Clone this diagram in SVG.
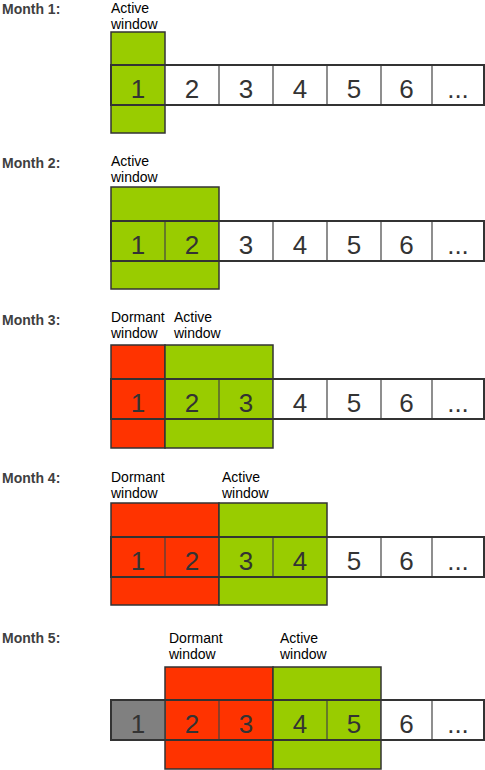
<svg xmlns="http://www.w3.org/2000/svg" width="485" height="770" viewBox="0 0 485 770">
<style>
.bg{fill:#ffffff}
.month{font-family:"Liberation Sans",Arial,sans-serif;font-weight:bold;font-size:14px;fill:#404040}
.lbl{font-family:"Liberation Sans",Arial,sans-serif;font-size:14px;fill:#000}
.num{font-family:"Liberation Sans",Arial,sans-serif;font-size:26px;fill:#333;text-anchor:middle}
.act{fill:#99cc00;stroke:#333;stroke-width:1.5}
.dor{fill:#ff3300;stroke:#333;stroke-width:1.5}
.old{fill:#808080;stroke:#333;stroke-width:1}
.cell{fill:#ffffff;stroke:#555;stroke-width:1}
.div{stroke:#444;stroke-width:1.2}
.frame{fill:none;stroke:#333;stroke-width:2}
</style>
<defs>
<g id="rowcells">
<line class="div" x1="165" y1="0" x2="165" y2="40"/>
<line class="div" x1="219" y1="0" x2="219" y2="40"/>
<line class="div" x1="273" y1="0" x2="273" y2="40"/>
<line class="div" x1="327" y1="0" x2="327" y2="40"/>
<line class="div" x1="381" y1="0" x2="381" y2="40"/>
<line class="div" x1="432" y1="0" x2="432" y2="40"/>
<rect class="frame" x="111" y="0" width="373" height="40"/>
<text class="num" x="138" y="33">1</text>
<text class="num" x="192" y="33">2</text>
<text class="num" x="246" y="33">3</text>
<text class="num" x="300" y="33">4</text>
<text class="num" x="354" y="33">5</text>
<text class="num" x="406.5" y="33">6</text>
<text class="num" x="458" y="33">...</text>
</g>
</defs>
<rect class="bg" x="0" y="0" width="485" height="770"/>

<g id="month1">
<text class="month" x="2" y="14">Month 1:</text>
<text class="lbl" x="111" y="13">Active</text>
<text class="lbl" x="111" y="29">window</text>
<rect class="act" x="111" y="32" width="54" height="101"/>
<rect class="cell" x="165" y="65" width="319" height="40"/>
<use href="#rowcells" y="65"/>
</g>

<g id="month2">
<text class="month" x="2" y="168">Month 2:</text>
<text class="lbl" x="111" y="166">Active</text>
<text class="lbl" x="111" y="182">window</text>
<rect class="act" x="111" y="187" width="108" height="102"/>
<rect class="cell" x="219" y="221" width="265" height="40"/>
<use href="#rowcells" y="221"/>
</g>

<g id="month3">
<text class="month" x="2" y="325">Month 3:</text>
<text class="lbl" x="111" y="322">Dormant</text>
<text class="lbl" x="111" y="338">window</text>
<text class="lbl" x="174" y="322">Active</text>
<text class="lbl" x="174" y="338">window</text>
<rect class="dor" x="111" y="345" width="54" height="103"/>
<rect class="act" x="165" y="345" width="108" height="103"/>
<rect class="cell" x="273" y="379" width="211" height="40"/>
<use href="#rowcells" y="379"/>
</g>

<g id="month4">
<text class="month" x="2" y="483">Month 4:</text>
<text class="lbl" x="111" y="482">Dormant</text>
<text class="lbl" x="111" y="498">window</text>
<text class="lbl" x="222" y="482">Active</text>
<text class="lbl" x="222" y="498">window</text>
<rect class="dor" x="111" y="503" width="108" height="102"/>
<rect class="act" x="219" y="503" width="108" height="102"/>
<rect class="cell" x="327" y="537" width="157" height="40"/>
<use href="#rowcells" y="537"/>
</g>

<g id="month5">
<text class="month" x="2" y="643">Month 5:</text>
<text class="lbl" x="169" y="643">Dormant</text>
<text class="lbl" x="169" y="659">window</text>
<text class="lbl" x="280" y="643">Active</text>
<text class="lbl" x="280" y="659">window</text>
<rect class="dor" x="165" y="667" width="108" height="102"/>
<rect class="act" x="273" y="667" width="108" height="102"/>
<rect class="old" x="111" y="700" width="54" height="40"/>
<rect class="cell" x="381" y="700" width="103" height="40"/>
<use href="#rowcells" y="700"/>
</g>

<g id="connectors"></g>
</svg>
